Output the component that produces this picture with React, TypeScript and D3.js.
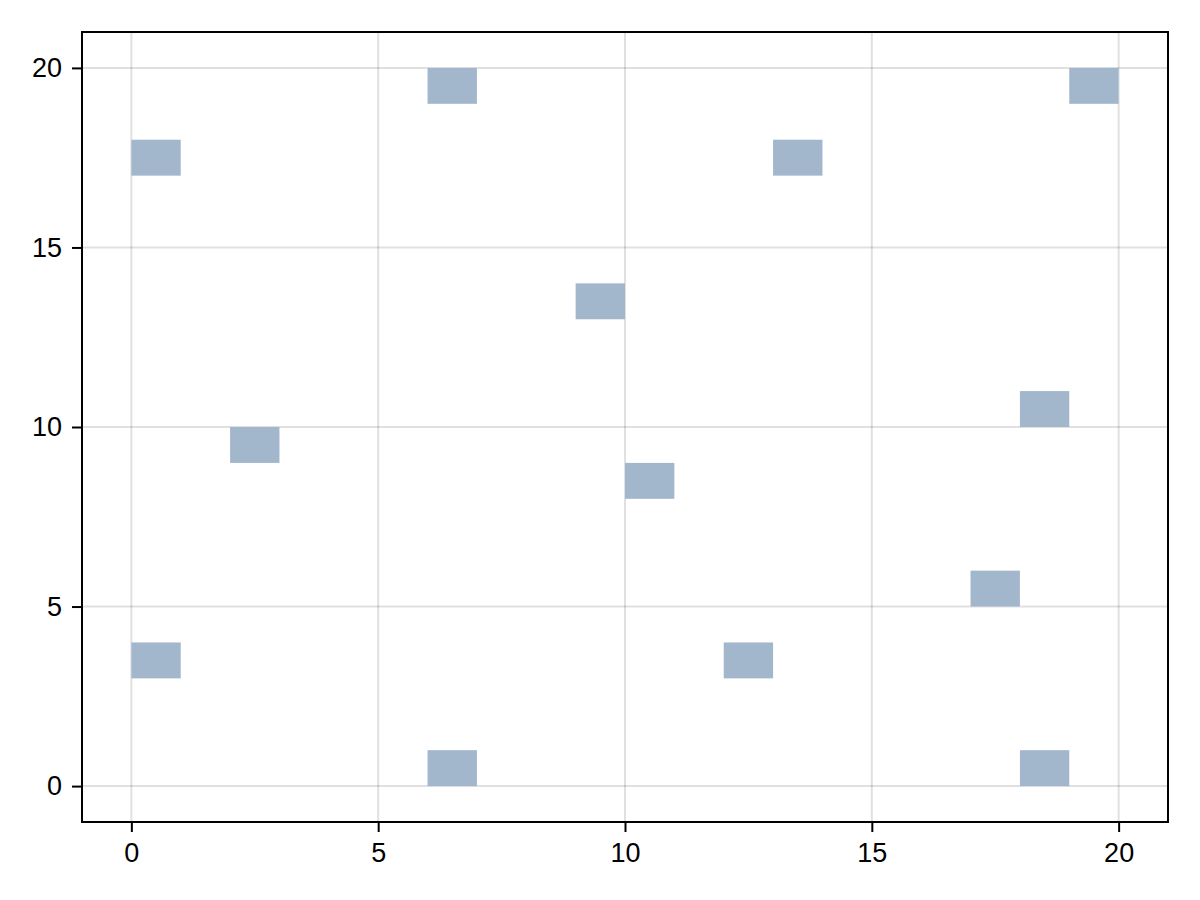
import React, { useEffect, useRef } from 'react';
import * as d3 from 'd3';

// lower-left corners of the unit cells that are filled
const cellX = [0, 6, 13, 19, 9, 18, 2, 10, 17, 0, 12, 6, 18];
const cellY = [17, 19, 17, 19, 13, 10, 9, 8, 5, 3, 3, 0, 0];
const xTicks = [0, 5, 10, 15, 20];
const yTicks = [0, 5, 10, 15, 20];

export default function App() {
    const ref = useRef<SVGSVGElement | null>(null);

    useEffect(() => {
        document.body.style.margin = '0';
        const svg = d3.select(ref.current);
        svg.selectAll('*').remove();
        const width = 1200, height = 900;
        const margin = { top: 32, right: 32, bottom: 78, left: 82 };
        const x = d3.scaleLinear().domain([-1, 21]).range([margin.left, width - margin.right]);
        const y = d3.scaleLinear().domain([-1, 21]).range([height - margin.bottom, margin.top]);
        const font = '"Liberation Sans", Arial, sans-serif';

        svg.attr('viewBox', `0 0 ${width} ${height}`);
        svg.append('rect').attr('width', width).attr('height', height).attr('fill', '#fff');

        // grid
        const grid = svg.append('g').attr('stroke', 'rgba(0,0,0,0.12)').attr('stroke-width', 2);
        grid.selectAll('line.gx').data(xTicks).join('line')
            .attr('class', 'gx')
            .attr('x1', d => x(d)).attr('x2', d => x(d))
            .attr('y1', y(21)).attr('y2', y(-1));
        grid.selectAll('line.gy').data(yTicks).join('line')
            .attr('class', 'gy')
            .attr('y1', d => y(d)).attr('y2', d => y(d))
            .attr('x1', x(-1)).attr('x2', x(21));

        // cells
        const cells = cellX.map((cx, i) => ({ x: cx, y: cellY[i] }));
        svg.append('g').selectAll('rect').data(cells).join('rect')
            .attr('x', d => x(d.x))
            .attr('y', d => y(d.y + 1))
            .attr('width', d => x(d.x + 1) - x(d.x))
            .attr('height', d => y(d.y) - y(d.y + 1))
            .attr('fill', '#a2b6cc');

        // frame
        svg.append('rect')
            .attr('x', x(-1)).attr('y', y(21))
            .attr('width', x(21) - x(-1)).attr('height', y(-1) - y(21))
            .attr('fill', 'none').attr('stroke', '#000').attr('stroke-width', 2);

        // x axis
        const xa = svg.append('g').attr('transform', `translate(0,${y(-1)})`)
            .call(d3.axisBottom(x).tickValues(xTicks).tickSize(10).tickPadding(11).tickSizeOuter(0));
        xa.select('.domain').remove();
        xa.attr('font-size', 27).attr('font-family', font);
        xa.selectAll('line').attr('stroke-width', 2);
        xa.selectAll('text').style('font-size', '27px').attr('fill', '#000');

        // y axis
        const ya = svg.append('g').attr('transform', `translate(${x(-1)},0)`)
            .call(d3.axisLeft(y).tickValues(yTicks).tickSize(10).tickPadding(10).tickSizeOuter(0));
        ya.select('.domain').remove();
        ya.attr('font-size', 27).attr('font-family', font);
        ya.selectAll('line').attr('stroke-width', 2);
        ya.selectAll('text').style('font-size', '27px').attr('fill', '#000');
    }, []);

    return <svg ref={ref} width={1200} height={900} style={{ display: 'block' }} />;
}
